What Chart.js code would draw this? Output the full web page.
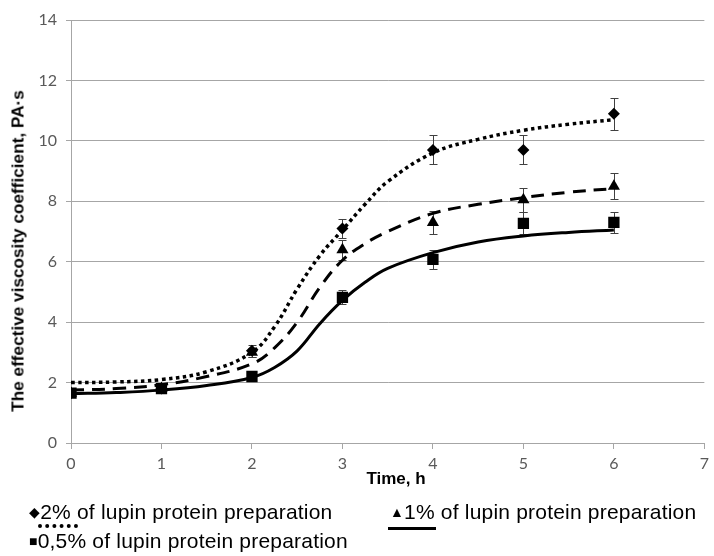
<!DOCTYPE html>
<html>
<head>
<meta charset="utf-8">
<script src="https://cdn.jsdelivr.net/npm/chart.js@4.4.0/dist/chart.umd.min.js"></script>
<style>
  body { margin: 0; background: #fff; }
  #wrap { position: relative; width: 714px; height: 556px; font-family: "Liberation Sans", Arial, sans-serif; }
  #ytitle { position: absolute; left: 18px; top: 251px; transform: translate(-50%, -50%) rotate(-90deg);
            white-space: nowrap; font-weight: bold; font-size: 17.2px; color: #000; }
  #xtitle { position: absolute; left: 396px; top: 479px; transform: translate(-50%, -50%);
            font-weight: bold; font-size: 17px; color: #000; }
  .leg { position: absolute; white-space: nowrap; font-size: 21px; color: #000; transform: translateY(-50%); letter-spacing: 0.2px; }
  .sym { font-size: 14px; vertical-align: 2px; }
  .sample { position: absolute; height: 0; }
</style>
</head>
<body>
<div id="wrap">
  <canvas id="myChart" width="714" height="556"></canvas>
  <div id="ytitle">The effective viscosity coefficient, PA·s</div>
  <div id="xtitle">Time, h</div>
  <div class="leg" style="left:29px; top:512px;"><span class="sym">◆</span>2% of lupin protein preparation</div>
  <div class="sample" style="left:38px; top:524px; width:40px; border-top:4px dotted #000;"></div>
  <div class="leg" style="left:390px; top:512px;"><span class="sym">▲</span>1% of lupin protein preparation</div>
  <div class="sample" style="left:388px; top:527px; width:48px; border-top:3px solid #000;"></div>
  <div class="leg" style="left:29px; top:541px;"><span class="sym">■</span>0,5% of lupin protein preparation</div>
</div>
<script>
// measured points (mean, error)
var hours = [0, 1, 2, 3, 4, 5, 6];
var mean2 = [1.65, 1.8, 3.05, 7.1, 9.7, 9.7, 10.9];
var err2 = [0, 0, 0.2, 0.33, 0.48, 0.48, 0.53];
var mean1 = [1.65, 1.8, 3.0, 6.4, 7.3, 8.05, 8.5];
var err1 = [0, 0, 0.15, 0.33, 0.38, 0.4, 0.42];
var mean05 = [1.65, 1.8, 2.2, 4.82, 6.08, 7.27, 7.3];
var err05 = [0, 0, 0, 0.23, 0.32, 0.36, 0.36];

// fitted curves
var fitX = [0, 0.5, 1, 1.5, 2, 2.25, 2.5, 2.75, 3, 3.25, 3.5, 4, 4.5, 5, 5.5, 6];
var fit2 = [2.0, 2.02, 2.1, 2.36, 3.0, 3.85, 5.1, 6.2, 7.05, 7.9, 8.65, 9.6, 10.05, 10.35, 10.55, 10.7];
var fit1 = [1.75, 1.8, 1.93, 2.2, 2.62, 3.15, 4.0, 5.15, 6.05, 6.6, 7.0, 7.6, 7.9, 8.12, 8.3, 8.42];
var fit05 = [1.63, 1.67, 1.75, 1.9, 2.17, 2.5, 3.05, 3.95, 4.72, 5.32, 5.78, 6.3, 6.65, 6.85, 6.97, 7.05];

var yTicks = [0, 2, 4, 6, 8, 10, 12, 14];

function pts(xs, ys) {
    return xs.map(function (x, i) { return { x: x, y: ys[i] }; });
}

var errors = { 3: err2, 4: err1, 5: err05 };

const errorBars = {
    id: "errorBars",
    beforeDatasetsDraw(chart) {
        const c = chart.ctx;
        const ys = chart.scales.y;
        c.save();
        c.strokeStyle = "#404040";
        c.lineWidth = 1;
        Object.keys(errors).forEach(function (idx) {
            const meta = chart.getDatasetMeta(+idx);
            const vals = chart.data.datasets[idx].data;
            meta.data.forEach(function (p, i) {
                const e = errors[idx][i];
                if (!e) return;
                const top = Math.round(ys.getPixelForValue(vals[i].y + e)) + 0.5;
                const bot = Math.round(ys.getPixelForValue(vals[i].y - e)) + 0.5;
                const x = Math.round(p.x) + 0.5;
                c.beginPath();
                c.moveTo(x, top); c.lineTo(x, bot);
                c.moveTo(x - 4, top); c.lineTo(x + 4, top);
                c.moveTo(x - 4, bot); c.lineTo(x + 4, bot);
                c.stroke();
            });
        });
        c.restore();
    }
};

const ctx = document.getElementById("myChart");

new Chart(ctx, {
    type: "scatter",
    data: {
        datasets: [
            { type: "line", data: pts(fitX, fit2), borderColor: "#000", borderWidth: 3.5, borderDash: [3.5, 3.5],
              pointRadius: 0, tension: 0.4, fill: false },
            { type: "line", data: pts(fitX, fit1), borderColor: "#000", borderWidth: 3, borderDash: [13, 8],
              pointRadius: 0, tension: 0.4, fill: false },
            { type: "line", data: pts(fitX, fit05), borderColor: "#000", borderWidth: 3,
              pointRadius: 0, tension: 0.4, fill: false },
            { data: pts(hours, mean2), pointStyle: "rectRot", pointRadius: 6, backgroundColor: "#000", borderColor: "#000", borderWidth: 0 },
            { data: pts(hours, mean1), pointStyle: "triangle", pointRadius: 7, backgroundColor: "#000", borderColor: "#000", borderWidth: 0 },
            { data: pts(hours, mean05), pointStyle: "rect", pointRadius: 8, backgroundColor: "#000", borderColor: "#000", borderWidth: 0 },
        ],
    },
    options: {
        responsive: false,
        animation: false,
        devicePixelRatio: 1,
        layout: { padding: { top: 20, right: 4, left: 0, bottom: 0 } },
        plugins: { legend: { display: false }, tooltip: { enabled: false } },
        scales: {
            x: {
                type: "linear",
                min: 0,
                max: 7,
                afterFit: function (s) { s.height = 113; },
                ticks: { stepSize: 1, padding: 5, color: "#595959", font: { size: 16, family: "Lato" } },
                grid: { drawOnChartArea: false, drawTicks: true, tickLength: 6, color: "#a6a6a6" },
                border: { color: "#a6a6a6" },
            },
            y: {
                min: 0,
                max: 14,
                afterFit: function (s) { s.width = 71; },
                afterBuildTicks: function (s) { s.ticks = yTicks.map(function (v) { return { value: v }; }); },
                ticks: { padding: 9, color: "#595959", font: { size: 16, family: "Lato" } },
                grid: { color: "#a6a6a6", tickLength: 5 },
                border: { color: "#a6a6a6" },
            },
        },
    },
    plugins: [errorBars],
});
</script>
</body>
</html>
